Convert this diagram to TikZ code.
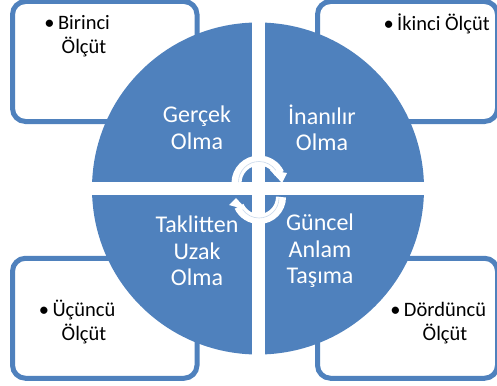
\documentclass[tikz,border=0pt]{standalone}
\usepackage{fontspec}
\setmainfont{Carlito}
\definecolor{ringblue}{RGB}{79,129,189}
\tikzset{
	outerbox/.style={draw=ringblue, line width=5pt, rounded corners=13pt, fill=white, minimum width=#1, minimum height=120pt, inner sep=0pt},
	blacktext/.style={align=center, font=\fontsize{20.5}{24.5}\selectfont, text=black, inner sep=0pt},
	whitetext/.style={align=center, font=\fontsize{24}{26.5}\selectfont, text=white, inner sep=0pt},
	swapband/.style={draw=white, line width=10pt},
	swapline/.style={draw=ringblue!30, line width=.6pt},
}
\begin{document}
\begin{tikzpicture}[x=1pt, y=-1pt]
	\useasboundingbox (0,0) rectangle (497,385);

	\node (boxa) [outerbox=184.5pt] at (104.75,61.5) {};
	\node (boxb) [outerbox=180pt] at (407.5,61.5) {};
	\node (boxc) [outerbox=184.5pt] at (104.75,318.25) {};
	\node (boxd) [outerbox=180pt] at (407.5,318.25) {};

	\fill[ringblue] (258,188.5) circle (166);
	\fill[white] (252,0) rectangle (264.5,385);
	\fill[white] (80,182) rectangle (440,195);

	\node (texta) [whitetext] at (197,128) {Gerçek\\Olma};
	\node (textb) [whitetext] at (322,128) {İnanılır\\Olma};
	\node (textc) [whitetext] at (197,251) {Taklitten\\Uzak\\Olma};
	\node (textd) [whitetext] at (320,251) {Güncel\\Anlam\\Taşıma};

	\node (labela) [blacktext] at (84,36) {\llap{\textbullet\,}Birinci\\Ölçüt};
	\node (labelb) [blacktext] at (443.5,24) {\llap{\textbullet\,}İkinci Ölçüt};
	\node (labelc) [blacktext] at (84,322) {\llap{\textbullet\,}Üçüncü\\Ölçüt};
	\node (labeld) [blacktext] at (445,323) {\llap{\textbullet\,}Dördüncü\\Ölçüt};

	% swap arrows
	\draw[swapband] (236.5,183) arc (180:335:22.5);
	\fill[white] (287,173) -- (282,183) -- (270,170) -- cycle;
	\draw[swapband] (281,197) arc (0:155:22);
	\fill[white] (229,205) -- (236,198) -- (247,210) -- cycle;
	\draw[swapline] (238.5,182) arc (180:325:20.5);
	\draw[swapline] (279,198) arc (0:145:20);
\end{tikzpicture}
\end{document}
